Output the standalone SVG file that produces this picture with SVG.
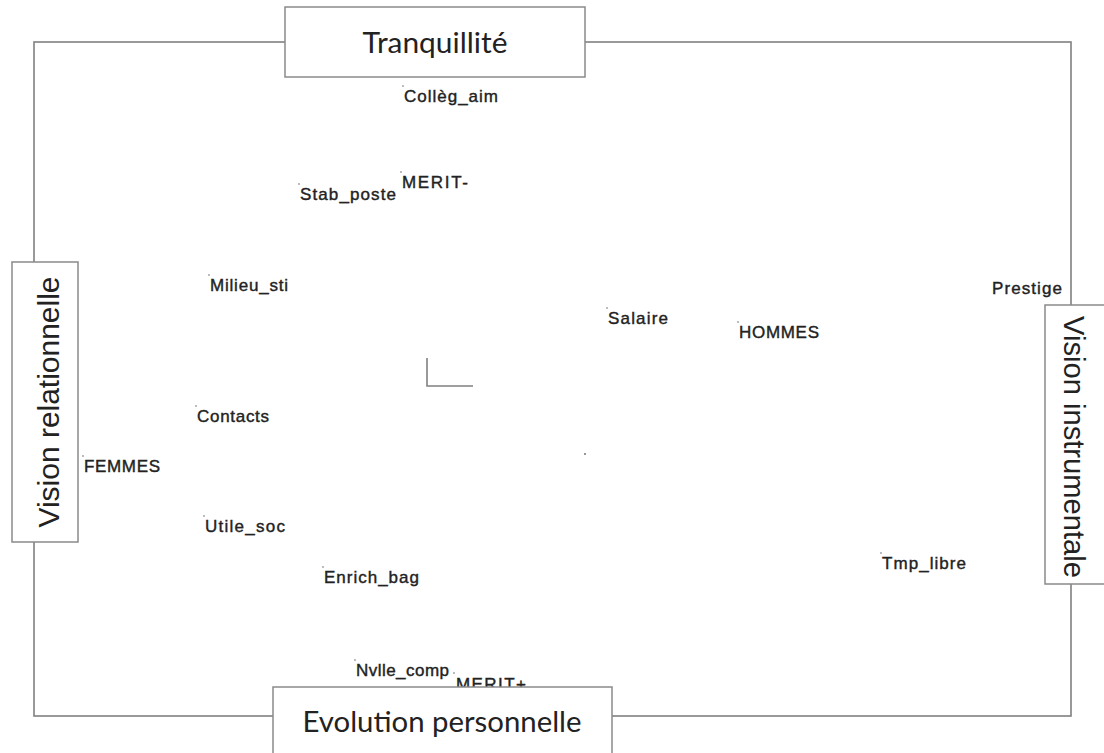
<svg xmlns="http://www.w3.org/2000/svg" width="1104" height="753" viewBox="0 0 1104 753">
<style>
.frame{fill:none;stroke:#808080;stroke-width:1.6}
.box{fill:#ffffff;stroke:#8a8a8a;stroke-width:1.5}
.ttl{font-family:Lato,"Open Sans","Liberation Sans",sans-serif;font-size:28px;fill:#222}
.vt{font-family:"Liberation Sans",Arial,sans-serif;font-size:30px;fill:#222}
.lbl{font-family:"Liberation Sans",Arial,sans-serif;font-size:17px;fill:#222;stroke:#222;stroke-width:0.4}
.pt{fill:#666}
</style>
<rect width="1104" height="753" fill="#ffffff"/>
<g id="connectors">
<rect class="frame" x="34" y="42" width="1037" height="674"/>
<path class="frame" d="M427 358 V386 H473" stroke="#6a6a6a"/>
</g>
<g id="points">
<circle class="pt" cx="585" cy="454" r="0.9"/>
</g>
<g id="label-collegaim"><circle class="pt" cx="403" cy="86" r="0.8"/><text class="lbl" x="404" y="102" textLength="94" lengthAdjust="spacing">Collèg_aim</text></g>
<g id="label-meritminus"><circle class="pt" cx="401" cy="172" r="0.8"/><text class="lbl" x="402" y="188" textLength="66" lengthAdjust="spacing">MERIT-</text></g>
<g id="label-stabposte"><circle class="pt" cx="299" cy="184" r="0.8"/><text class="lbl" x="300" y="200" textLength="96" lengthAdjust="spacing">Stab_poste</text></g>
<g id="label-milieusti"><circle class="pt" cx="209" cy="275" r="0.8"/><text class="lbl" x="210" y="291" textLength="78" lengthAdjust="spacing">Milieu_sti</text></g>
<g id="label-prestige"><text class="lbl" x="992" y="294" textLength="70" lengthAdjust="spacing">Prestige</text></g>
<g id="label-salaire"><circle class="pt" cx="607" cy="308" r="0.8"/><text class="lbl" x="608" y="324" textLength="60" lengthAdjust="spacing">Salaire</text></g>
<g id="label-hommes"><circle class="pt" cx="738" cy="322" r="0.8"/><text class="lbl" x="739" y="338" textLength="80" lengthAdjust="spacing">HOMMES</text></g>
<g id="label-contacts"><circle class="pt" cx="196" cy="406" r="0.8"/><text class="lbl" x="197" y="422" textLength="72" lengthAdjust="spacing">Contacts</text></g>
<g id="label-femmes"><circle class="pt" cx="83" cy="456" r="0.8"/><text class="lbl" x="84" y="472" textLength="76" lengthAdjust="spacing">FEMMES</text></g>
<g id="label-utilesoc"><circle class="pt" cx="204" cy="516" r="0.8"/><text class="lbl" x="205" y="532" textLength="80" lengthAdjust="spacing">Utile_soc</text></g>
<g id="label-enrichbag"><circle class="pt" cx="323" cy="567" r="0.8"/><text class="lbl" x="324" y="583" textLength="95" lengthAdjust="spacing">Enrich_bag</text></g>
<g id="label-tmplibre"><circle class="pt" cx="881" cy="553" r="0.8"/><text class="lbl" x="882" y="569" textLength="84" lengthAdjust="spacing">Tmp_libre</text></g>
<g id="label-nvllecomp"><circle class="pt" cx="355" cy="660" r="0.8"/><text class="lbl" x="356" y="676" textLength="93" lengthAdjust="spacing">Nvlle_comp</text></g>
<g id="label-meritplus"><circle class="pt" cx="454" cy="673" r="0.8"/><text class="lbl" x="456" y="690" textLength="70" lengthAdjust="spacing">MERIT+</text></g>
<g id="node-tranquillite"><rect class="box" x="285" y="7" width="300" height="70"/><text class="ttl" x="435" y="53" text-anchor="middle" textLength="145" lengthAdjust="spacingAndGlyphs">Tranquillité</text></g>
<g id="node-evolution"><rect class="box" x="273" y="687" width="339" height="80"/><text class="ttl" x="442" y="732" text-anchor="middle" textLength="279" lengthAdjust="spacingAndGlyphs">Evolution personnelle</text></g>
<g id="node-relationnelle"><rect class="box" x="12" y="262" width="66" height="280"/><text class="vt" transform="translate(59 402) rotate(-90)" text-anchor="middle" textLength="251" lengthAdjust="spacingAndGlyphs">Vision relationnelle</text></g>
<g id="node-instrumentale"><rect class="box" x="1045" y="305" width="70" height="279"/><text class="vt" transform="translate(1064 447) rotate(90)" text-anchor="middle" textLength="262" lengthAdjust="spacingAndGlyphs">Vision instrumentale</text></g>
</svg>
